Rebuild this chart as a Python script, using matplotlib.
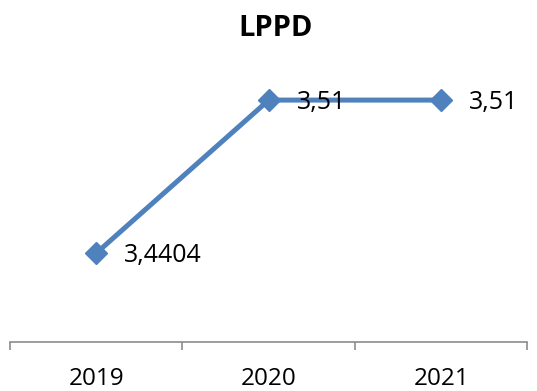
import matplotlib.pyplot as plt

years = ["2019", "2020", "2021"]
lppd = [3.4404, 3.51, 3.51]
labels = ["3,4404", "3,51", "3,51"]

plt.rcParams["font.family"] = ["Open Sans", "DejaVu Sans"]

fig = plt.figure(figsize=(5.37, 3.91), dpi=100)
ax = fig.add_axes([0.0186, 0.1253, 0.9637, 0.675])

x = range(len(years))
ax.plot(x, lppd, "-D", color="#4F81BD", linewidth=3.6, markersize=11, clip_on=False)

for xi, v, lab in zip(x, lppd, labels):
    ax.annotate(lab, (xi, v), xytext=(20, -1.5), textcoords="offset points",
                ha="left", va="center", fontsize=18, color="black")

ax.set_xlim(-0.5, 2.5)
ax.set_ylim(3.40, 3.52)

ax.set_xticks([-0.5, 0.5, 1.5, 2.5])
ax.set_xticklabels([])
ax.set_xticks(list(x), minor=True)
ax.set_xticklabels(years, minor=True, fontsize=17.5)
ax.tick_params(axis="x", which="major", length=6, width=1.2, color="#8c8c8c", direction="out")
ax.tick_params(axis="x", which="minor", length=0, pad=18)
ax.set_yticks([])

for s in ["top", "right", "left"]:
    ax.spines[s].set_visible(False)
ax.spines["bottom"].set_color("#8c8c8c")
ax.spines["bottom"].set_linewidth(1.2)

fig.text(0.514, 0.928, "LPPD", ha="center", va="center", fontsize=21, fontweight="bold")

fig.savefig("out.png", dpi=100)
